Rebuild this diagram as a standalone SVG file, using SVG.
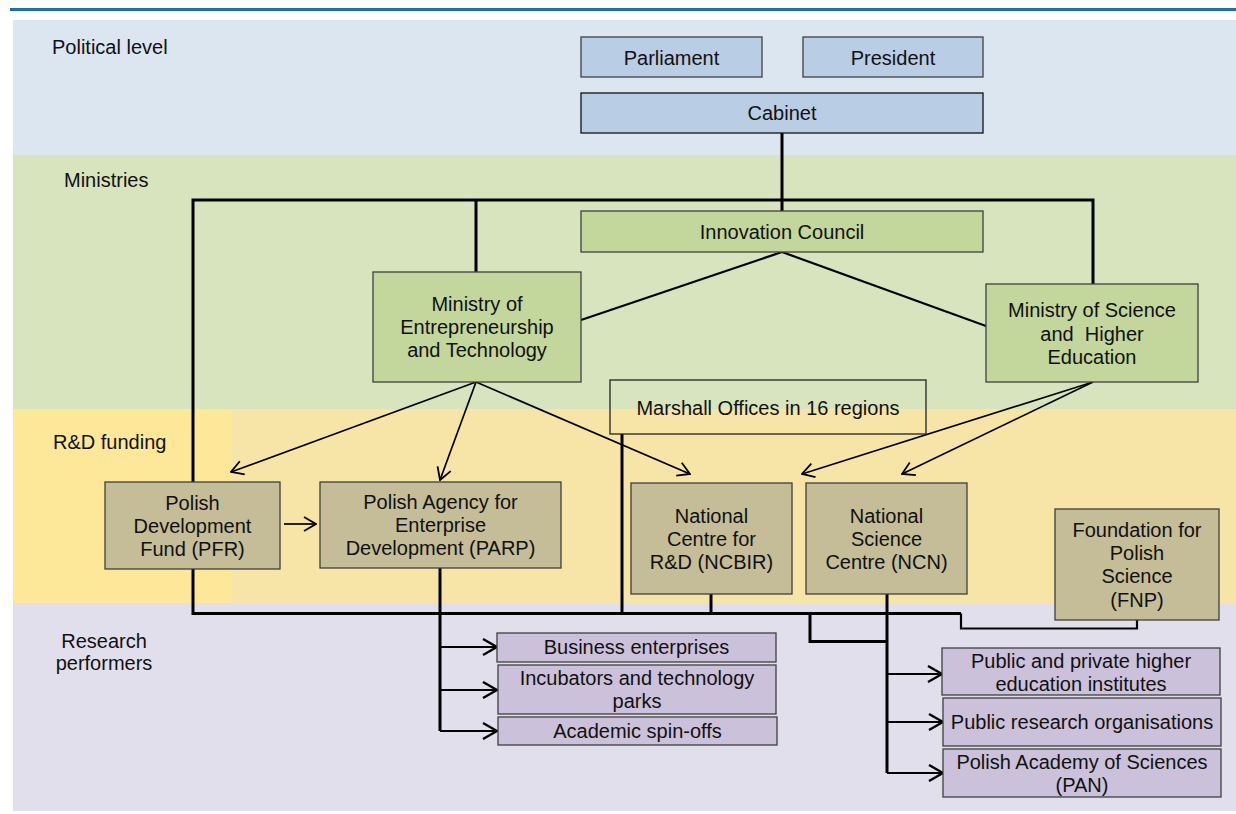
<svg xmlns="http://www.w3.org/2000/svg" width="1236" height="814" viewBox="0 0 1236 814">
  <defs>
    <style>
      text { font-family: "Liberation Sans", Arial, sans-serif; fill: #111; }
      .lbl { font-size: 20px; }
      .t { font-size: 20px; text-anchor: middle; }
      .box { stroke: #3f3f3f; stroke-width: 1.3; }
      .pol { fill: #b9cde5; }
      .min { fill: #c3d69b; }
      .fund { fill: #c4bd97; }
      .perf { fill: #ccc1da; }
      .thick { fill: none; stroke: #000; stroke-width: 3; stroke-linejoin: miter; }
      .mid { fill: none; stroke: #000; stroke-width: 2.2; }
      .thin { fill: none; stroke: #000; stroke-width: 1.7; }
    </style>
    <marker id="arrowOpen" viewBox="0 0 14 16" refX="13" refY="8" markerWidth="14" markerHeight="16" markerUnits="userSpaceOnUse" orient="auto">
      <path d="M1,1 L13,8 L1,15" fill="none" stroke="#000" stroke-width="1.8"/>
    </marker>
    <marker id="arrowBig" viewBox="0 0 16 18" refX="15" refY="9" markerWidth="16" markerHeight="18" markerUnits="userSpaceOnUse" orient="auto">
      <path d="M1,1 L15,9 L1,17" fill="none" stroke="#000" stroke-width="2.4"/>
    </marker>
  </defs>

  <!-- header rule -->
  <rect x="10" y="8" width="1226" height="3" fill="#1f6db5"/>

  <!-- level bands -->
  <g id="bands">
    <rect x="13" y="20" width="1223" height="135" fill="#dce6f1"/>
    <rect x="13" y="155" width="1223" height="254" fill="#d7e4bd"/>
    <rect x="13" y="409" width="1223" height="194" fill="#f7e4a7"/>
    <rect x="13" y="409" width="219" height="194" fill="#fde899"/>
    <rect x="13" y="603" width="1223" height="208" fill="#e1dfec"/>
  </g>

  <g id="band-labels">
    <text class="lbl" x="52" y="54">Political level</text>
    <text class="lbl" x="64" y="187">Ministries</text>
    <text class="lbl" x="53" y="449">R&amp;D funding</text>
    <text class="lbl" x="104" y="648" text-anchor="middle">Research</text>
    <text class="lbl" x="104" y="670" text-anchor="middle">performers</text>
  </g>

  <!-- connectors -->
  <g id="connectors">
    <!-- cabinet to ministries -->
    <path class="thick" d="M782,133 V211"/>
    <path class="thick" d="M193,482 V200 H1093 V284"/>
    <path class="thick" d="M476,200 V272"/>
    <!-- innovation council links -->
    <path class="mid" d="M581,320 L782,252 L986,326"/>
    <!-- ministries to funding agencies -->
    <path class="thin" d="M476,382 L231,472" marker-end="url(#arrowOpen)"/>
    <path class="thin" d="M476,382 L440,480" marker-end="url(#arrowOpen)"/>
    <path class="thin" d="M476,382 L690,474" marker-end="url(#arrowOpen)"/>
    <path class="thin" d="M1093,382 L802,474" marker-end="url(#arrowOpen)"/>
    <path class="thin" d="M1093,382 L902,474" marker-end="url(#arrowOpen)"/>
    <path class="thin" d="M284,524 H316" marker-end="url(#arrowOpen)"/>
    <!-- funding bus -->
    <path class="thick" d="M193,569 V613.5 H961"/>
    <path class="mid" d="M961,613.5 V628.5 H1137 V620"/>
    <path class="thick" d="M622,434 V613.5"/>
    <path class="thick" d="M711,594 V613.5"/>
    <path class="thick" d="M810,613.5 V641.5 H887"/>
    <path class="thick" d="M440,568 V731"/>
    <path class="thick" d="M887,594 V773"/>
    <!-- to research performers -->
    <path class="mid" d="M440,647 H497" marker-end="url(#arrowBig)"/>
    <path class="mid" d="M440,690 H497" marker-end="url(#arrowBig)"/>
    <path class="mid" d="M440,731 H497" marker-end="url(#arrowBig)"/>
    <path class="mid" d="M887,674 H942" marker-end="url(#arrowBig)"/>
    <path class="mid" d="M887,722 H943" marker-end="url(#arrowBig)"/>
    <path class="mid" d="M887,773 H943" marker-end="url(#arrowBig)"/>
  </g>

  <!-- political level -->
  <g id="parliament">
    <rect class="box pol" x="581" y="37" width="181" height="40"/>
    <text class="t" x="671.5" y="65">Parliament</text>
  </g>
  <g id="president">
    <rect class="box pol" x="803" y="37" width="180" height="40"/>
    <text class="t" x="893" y="65">President</text>
  </g>
  <g id="cabinet">
    <rect class="pol" x="581" y="93" width="402" height="40" stroke="#111" stroke-width="1.3"/>
    <text class="t" x="782" y="120">Cabinet</text>
  </g>

  <!-- ministries -->
  <g id="innovation-council">
    <rect class="box min" x="581" y="211" width="402" height="41"/>
    <text class="t" x="782" y="239">Innovation Council</text>
  </g>
  <g id="ministry-entrepreneurship">
    <rect class="box min" x="373" y="272" width="208" height="110"/>
    <text class="t" x="477" y="311">Ministry of</text>
    <text class="t" x="477" y="334">Entrepreneurship</text>
    <text class="t" x="477" y="357">and Technology</text>
  </g>
  <g id="ministry-science">
    <rect class="box min" x="986" y="284" width="212" height="98"/>
    <text class="t" x="1092" y="317">Ministry of Science</text>
    <text class="t" x="1092" y="341">and&#160; Higher</text>
    <text class="t" x="1092" y="364">Education</text>
  </g>
  <g id="marshall-offices">
    <rect x="610" y="380" width="316" height="54" fill="none" stroke="#222" stroke-width="1.3"/>
    <text class="t" x="768" y="415">Marshall Offices in 16 regions</text>
  </g>

  <!-- R&D funding -->
  <g id="pfr">
    <rect class="box fund" x="105" y="482" width="175" height="87"/>
    <text class="t" x="192.5" y="510">Polish</text>
    <text class="t" x="192.5" y="533">Development</text>
    <text class="t" x="192.5" y="556">Fund (PFR)</text>
  </g>
  <g id="parp">
    <rect class="box fund" x="320" y="482" width="241" height="86"/>
    <text class="t" x="440.5" y="509">Polish Agency for</text>
    <text class="t" x="440.5" y="532">Enterprise</text>
    <text class="t" x="440.5" y="555">Development (PARP)</text>
  </g>
  <g id="ncbir">
    <rect class="box fund" x="631" y="483" width="161" height="111"/>
    <text class="t" x="711.5" y="523">National</text>
    <text class="t" x="711.5" y="546">Centre for</text>
    <text class="t" x="711.5" y="569">R&amp;D (NCBIR)</text>
  </g>
  <g id="ncn">
    <rect class="box fund" x="806" y="483" width="161" height="111"/>
    <text class="t" x="886.5" y="523">National</text>
    <text class="t" x="886.5" y="546">Science</text>
    <text class="t" x="886.5" y="569">Centre (NCN)</text>
  </g>
  <g id="fnp">
    <rect class="box fund" x="1055" y="509" width="164" height="111"/>
    <text class="t" x="1137" y="537">Foundation for</text>
    <text class="t" x="1137" y="560">Polish</text>
    <text class="t" x="1137" y="583">Science</text>
    <text class="t" x="1137" y="607">(FNP)</text>
  </g>

  <!-- research performers -->
  <g id="business-enterprises">
    <rect class="box perf" x="497" y="633" width="279" height="29"/>
    <text class="t" x="636.5" y="654">Business enterprises</text>
  </g>
  <g id="incubators">
    <rect class="box perf" x="498" y="665" width="278" height="49"/>
    <text class="t" x="637" y="685">Incubators and technology</text>
    <text class="t" x="637" y="708">parks</text>
  </g>
  <g id="academic-spinoffs">
    <rect class="box perf" x="498" y="717" width="279" height="28"/>
    <text class="t" x="637.5" y="738">Academic spin-offs</text>
  </g>
  <g id="higher-education">
    <rect class="box perf" x="942" y="648" width="278" height="47"/>
    <text class="t" x="1081" y="668">Public and private higher</text>
    <text class="t" x="1081" y="691">education institutes</text>
  </g>
  <g id="public-research">
    <rect class="box perf" x="943" y="698" width="278" height="48"/>
    <text class="t" x="1082" y="729">Public research organisations</text>
  </g>
  <g id="pan">
    <rect class="box perf" x="943" y="749" width="278" height="48"/>
    <text class="t" x="1082" y="769">Polish Academy of Sciences</text>
    <text class="t" x="1082" y="792">(PAN)</text>
  </g>
</svg>
